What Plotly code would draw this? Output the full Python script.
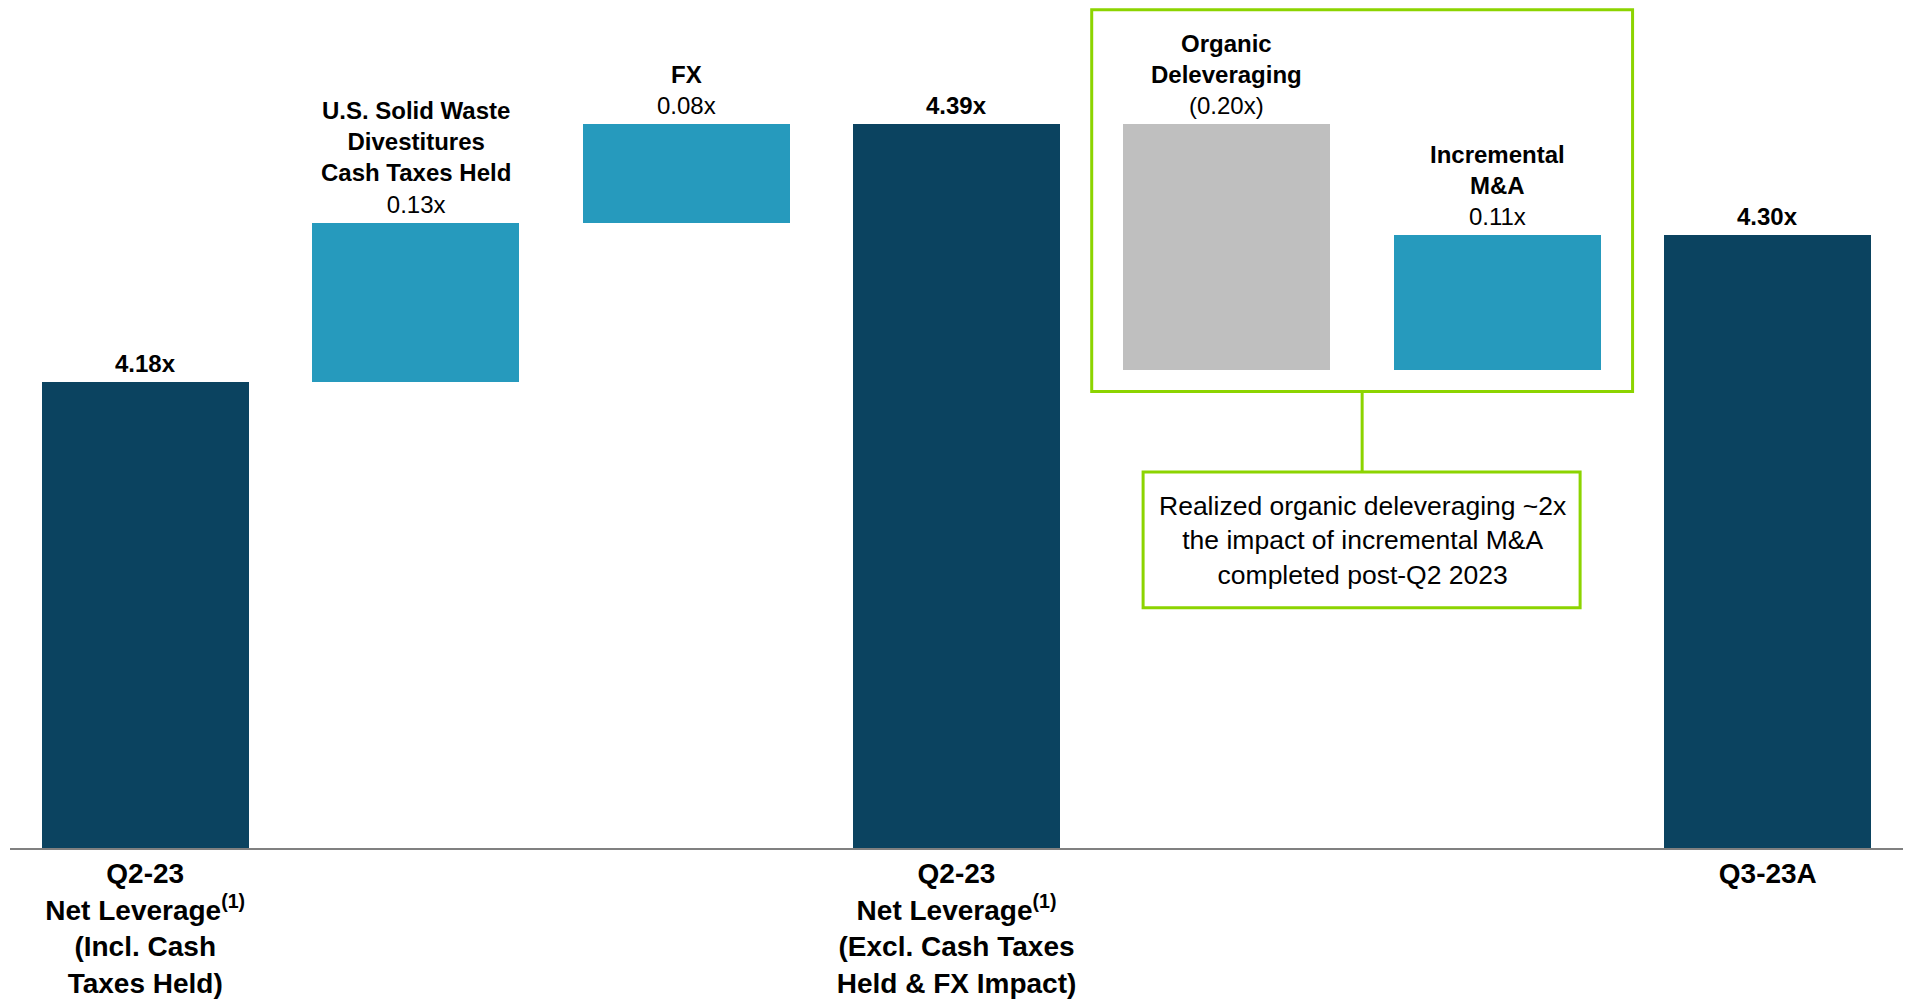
import plotly.graph_objects as go

# ---- data ----
step_labels = ["Q2-23 Net Leverage (Incl. Cash Taxes Held)",
               "U.S. Solid Waste Divestitures Cash Taxes Held",
               "FX",
               "Q2-23 Net Leverage (Excl. Cash Taxes Held & FX Impact)",
               "Organic Deleveraging",
               "Incremental M&A",
               "Q3-23A"]
step_values = [4.18, 0.13, 0.08, 4.39, -0.20, 0.11, 4.30]
step_kinds = ["total", "delta", "delta", "total", "delta", "delta", "total"]
value_text = ["4.18x", "0.13x", "0.08x", "4.39x", "(0.20x)", "0.11x", "4.30x"]
delta_titles = {1: ["U.S. Solid Waste", "Divestitures", "Cash Taxes Held"],
                2: ["FX"],
                4: ["Organic", "Deleveraging"],
                5: ["Incremental", "M&A"]}
axis_tickvals = [0, 3, 6]
axis_ticklines = [["Q2-23", "Net Leverage<sup>(1)</sup>", "(Incl. Cash", "Taxes Held)"],
                  ["Q2-23", "Net Leverage<sup>(1)</sup>", "(Excl. Cash Taxes", "Held & FX Impact)"],
                  ["Q3-23A"]]
callout_text = "Realized organic deleveraging ~2x<br>the impact of incremental M&A<br>completed post-Q2 2023"

NAVY = "#0B4360"
TEAL = "#269ABD"
GRAY = "#BFBFBF"
GREEN = "#8CD400"
FONT = "Liberation Sans, Arial, sans-serif"

# compute floating bars
bases, heights, colors, tops = [], [], [], []
running = 0.0
for v, k in zip(step_values, step_kinds):
    if k == "total":
        bases.append(0)
        heights.append(v)
        colors.append(NAVY)
        running = v
        tops.append(v)
    else:
        bases.append(running)
        heights.append(v)
        colors.append(TEAL if v > 0 else GRAY)
        tops.append(max(running, running + v))
        running = running + v

x = list(range(len(step_values)))

fig = go.Figure()
fig.add_trace(go.Bar(x=x, y=heights, base=bases, marker=dict(color=colors, line=dict(width=0)),
                     width=0.765, hoverinfo="skip", showlegend=False))

annotations = []
for i in x:
    if step_kinds[i] == "total":
        txt = "<b>%s</b>" % value_text[i]
    else:
        txt = "<br>".join("<b>%s</b>" % s for s in delta_titles[i]) + "<br>" + value_text[i]
    annotations.append(dict(x=i, y=tops[i], xref="x", yref="y", text=txt, showarrow=False,
                            yanchor="bottom", xanchor="center", yshift=3,
                            font=dict(family=FONT, size=24, color="#000000")))

annotations.append(dict(x=4.5, y=0.3631, xref="x", yref="paper", text=callout_text, showarrow=False,
                        xanchor="center", yanchor="middle",
                        font=dict(family=FONT, size=26.5, color="#000000")))

shapes = [
    dict(type="rect", xref="x", yref="paper", x0=3.5, x1=5.5, y0=0.5382, y1=0.9886,
         line=dict(color=GREEN, width=3), fillcolor="rgba(0,0,0,0)"),
    dict(type="line", xref="x", yref="paper", x0=4.5, x1=4.5, y0=0.4435, y1=0.5382,
         line=dict(color=GREEN, width=3)),
    dict(type="rect", xref="x", yref="paper", x0=3.69, x1=5.306, y0=0.2832, y1=0.4435,
         line=dict(color=GREEN, width=3), fillcolor="rgba(0,0,0,0)"),
]

ticktext = ["<br>".join("<b>%s</b>" % s for s in lines) for lines in axis_ticklines]

fig.update_layout(
    width=1909, height=999,
    margin=dict(l=10, r=6, t=0, b=148),
    paper_bgcolor="white", plot_bgcolor="white",
    annotations=annotations, shapes=shapes,
    bargap=0,
    xaxis=dict(range=[-0.5, 6.5], tickvals=axis_tickvals, ticktext=ticktext,
               showline=True, linecolor="#808080", linewidth=1.5, showgrid=False, zeroline=False,
               ticks="", tickfont=dict(family=FONT, size=28, color="#000000")),
    yaxis=dict(range=[3.8007, 4.4914], visible=False, showgrid=False, zeroline=False),
    font=dict(family=FONT),
)

fig.write_html("out.html")
